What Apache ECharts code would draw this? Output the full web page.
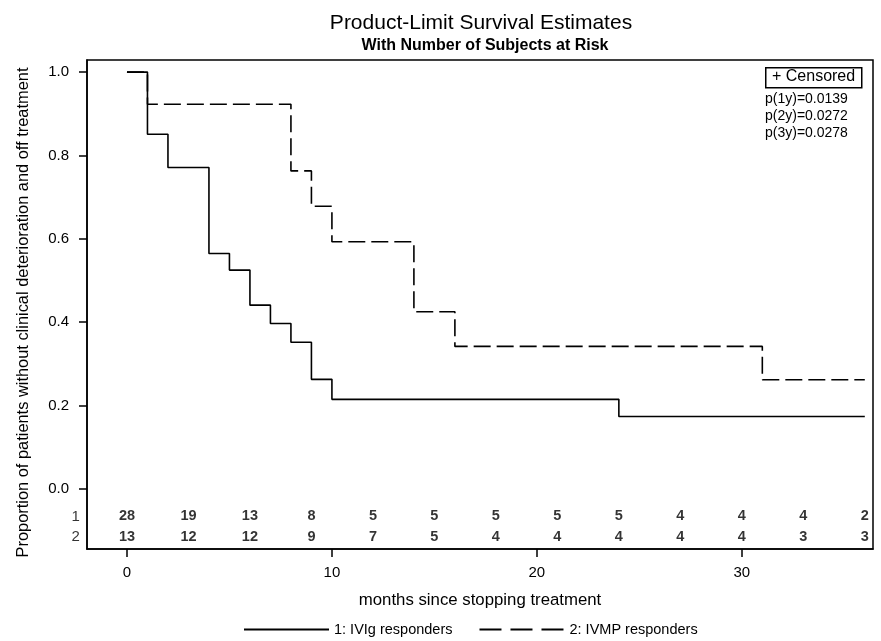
<!DOCTYPE html>
<html>
<head>
<meta charset="utf-8">
<title>Product-Limit Survival Estimates</title>
<script src="https://cdn.jsdelivr.net/npm/echarts@6/dist/echarts.min.js"></script>
<style>
html, body { margin: 0; padding: 0; background: #fff; }
#main { width: 881px; height: 641px; }
</style>
</head>
<body>
<div id="main"></div>
<script>
// KM step points (time in months, survival proportion)
var ivigTimes = [0, 1, 2, 4, 5, 6, 7, 8, 9, 10, 24, 36];
var ivigSurv = [1.0, 0.851, 0.771, 0.565, 0.525, 0.441, 0.397, 0.352, 0.263, 0.215, 0.174, 0.174];
var ivmpTimes = [0, 1, 8, 9, 10, 14, 16, 31, 36];
var ivmpSurv = [1.0, 0.923, 0.763, 0.678, 0.593, 0.425, 0.342, 0.262, 0.262];

// numbers at risk
var atRiskTimes = [0, 3, 6, 9, 12, 15, 18, 21, 24, 27, 30, 33, 36];
var atRisk1 = [28, 19, 13, 8, 5, 5, 5, 5, 5, 4, 4, 4, 2];
var atRisk2 = [13, 12, 12, 9, 7, 5, 4, 4, 4, 4, 4, 3, 3];

var seriesNames = ['1: IVIg responders', '2: IVMP responders'];
var yTicks = [0, 0.2, 0.4, 0.6, 0.8, 1.0];
var xTicks = [0, 10, 20, 30];
var pValues = ['p(1y)=0.0139', 'p(2y)=0.0272', 'p(3y)=0.0278'];

var FONT = '"Liberation Sans", Arial, Helvetica, sans-serif';
var X_MIN = -1.95, X_MAX = 36.4;
var Y_MIN = -0.144, Y_MAX = 1.029;
var ROW1_Y = -0.066, ROW2_Y = -0.116;

function pairs(xs, ys) {
    var out = [];
    for (var i = 0; i < xs.length; i++) {
        out.push([xs[i], ys[i]]);
    }
    return out;
}

function riskRow(counts, y, label) {
    var out = [];
    // row label sits just left of the plot frame
    out.push({value: [X_MIN, y, label], label: {position: 'left', distance: 7, fontSize: 15, fontWeight: 'normal'}});
    for (var i = 0; i < atRiskTimes.length; i++) {
        out.push({value: [atRiskTimes[i], y, counts[i]]});
    }
    return out;
}

var chart = echarts.init(document.getElementById('main'), null, {renderer: 'canvas'});

var option = {
    animation: false,
    backgroundColor: '#fff',
    textStyle: {fontFamily: FONT, color: '#000'},
    title: [{
        text: 'Product-Limit Survival Estimates',
        left: 476, top: 8, textAlign: 'center',
        textStyle: {fontFamily: FONT, fontSize: 21, fontWeight: 'normal', color: '#000'}
    }, {
        text: 'With Number of Subjects at Risk',
        left: 480, top: 33, textAlign: 'center',
        textStyle: {fontFamily: FONT, fontSize: 16, fontWeight: 'bold', color: '#000'}
    }],
    grid: {
        left: 87, right: 8, top: 60, bottom: 92,
        show: true, borderColor: '#000', borderWidth: 1.5, backgroundColor: 'transparent'
    },
    legend: {
        left: 238, top: 617,
        itemWidth: 85, itemHeight: 14, itemGap: 26,
        itemStyle: {opacity: 0},
        textStyle: {fontFamily: FONT, fontSize: 14.5, color: '#000'},
        data: [
            {name: seriesNames[0]},
            {name: seriesNames[1], lineStyle: {type: [22, 9]}}
        ]
    },
    xAxis: {
        type: 'value', min: X_MIN, max: X_MAX,
        name: 'months since stopping treatment',
        nameLocation: 'middle', nameGap: 43,
        nameTextStyle: {fontFamily: FONT, fontSize: 16.8, color: '#000'},
        axisLine: {show: true, onZero: false, lineStyle: {color: '#000', width: 1.5}},
        axisTick: {show: true, length: 8, customValues: xTicks, lineStyle: {color: '#000', width: 1.5}},
        axisLabel: {customValues: xTicks, margin: 16, fontSize: 15, color: '#000', fontFamily: FONT},
        splitLine: {show: false}
    },
    yAxis: {
        type: 'value', min: Y_MIN, max: Y_MAX,
        name: 'Proportion of patients without clinical deterioration and off treatment',
        nameLocation: 'middle', nameGap: 56, nameRotate: 90,
        nameTextStyle: {fontFamily: FONT, fontSize: 16.4, color: '#000', padding: [0, 16, 0, 0]},
        axisLine: {show: true, onZero: false, lineStyle: {color: '#000', width: 1.5}},
        axisTick: {show: true, length: 8, customValues: yTicks, lineStyle: {color: '#000', width: 1.5}},
        axisLabel: {
            customValues: yTicks, margin: 18, fontSize: 15, color: '#000', fontFamily: FONT,
            formatter: function (v) { return v.toFixed(1); }
        },
        splitLine: {show: false}
    },
    series: [{
        name: seriesNames[0],
        type: 'line', step: 'end', symbol: 'none',
        lineStyle: {color: '#000', width: 1.6, type: 'solid'},
        itemStyle: {color: '#000'},
        data: pairs(ivigTimes, ivigSurv)
    }, {
        name: seriesNames[1],
        type: 'line', step: 'end', symbol: 'none',
        lineStyle: {color: '#000', width: 1.6, type: [17, 6]},
        itemStyle: {color: '#000'},
        data: pairs(ivmpTimes, ivmpSurv)
    }, {
        // numbers at risk, drawn as labels only
        name: 'atrisk',
        type: 'scatter', symbolSize: 0.1, clip: false, silent: true,
        itemStyle: {color: 'transparent'},
        label: {
            show: true, position: 'inside', color: '#000',
            fontFamily: FONT, fontSize: 14.5, fontWeight: 'bold',
            formatter: function (p) { return p.value[2]; }
        },
        data: riskRow(atRisk1, ROW1_Y, '1').concat(riskRow(atRisk2, ROW2_Y, '2'))
    }],
    graphic: [{
        type: 'rect', left: 765, top: 67, z: 10,
        shape: {width: 96, height: 20},
        style: {fill: '#fff', stroke: '#000', lineWidth: 1.5}
    }, {
        type: 'text', left: 772, top: 69, z: 11,
        style: {text: '+ Censored', font: '16px ' + FONT, fill: '#000'}
    }, {
        type: 'text', left: 765, top: 91, z: 11,
        style: {text: pValues.join('\n'), font: '14px ' + FONT, fill: '#000', lineHeight: 17}
    }]
};

chart.setOption(option);
</script>
</body>
</html>
